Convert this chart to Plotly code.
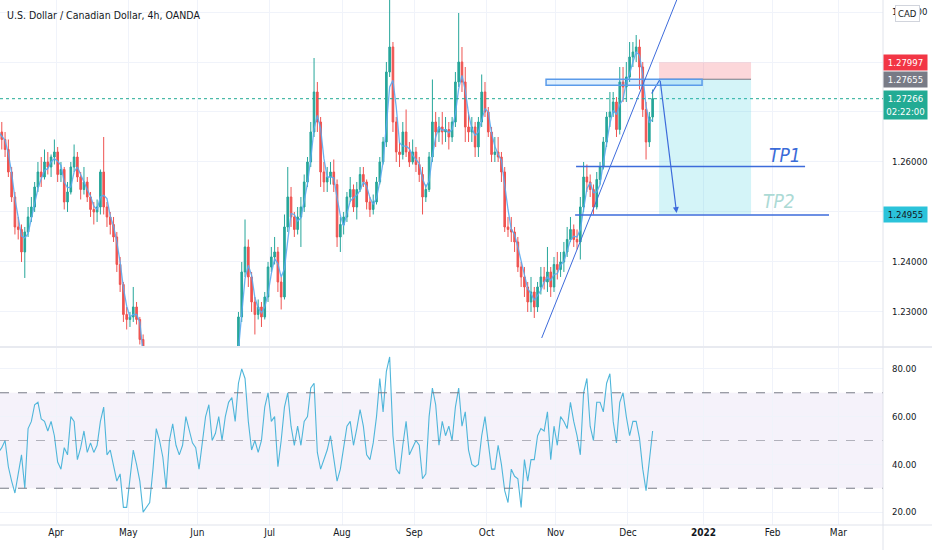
import plotly.graph_objects as go
import pandas as pd

# ---------------- data (daily weekday bars) ----------------
title_text = "U.S. Dollar / Canadian Dollar, 4h, OANDA"
first_day = "2021-03-08"

opens = [
    1.2630, 1.2660, 1.2645, 1.2625, 1.2580,
    1.2530, 1.2470, 1.2465, 1.2420, 1.2460,
    1.2490, 1.2510, 1.2550, 1.2580, 1.2570,
    1.2600, 1.2590, 1.2610, 1.2620, 1.2575,
    1.2585, 1.2520, 1.2540, 1.2590, 1.2610,
    1.2570, 1.2545, 1.2560, 1.2530, 1.2505,
    1.2500, 1.2510, 1.2580, 1.2510, 1.2490,
    1.2475, 1.2450, 1.2395, 1.2355, 1.2295,
    1.2285, 1.2290, 1.2310, 1.2285, 1.2245,
    1.2120, 1.2130, 1.2125, 1.2165, 1.2135,
    1.2100, 1.2075, 1.2050, 1.2090, 1.2060,
    1.2065, 1.2055, 1.2045, 1.2125, 1.2085,
    1.2070, 1.2050, 1.2060, 1.2070, 1.2110,
    1.2075, 1.2090, 1.2095, 1.2105, 1.2110,
    1.2150, 1.2155, 1.2165, 1.2220, 1.2290,
    1.2380, 1.2430, 1.2370, 1.2320, 1.2295,
    1.2310, 1.2290, 1.2330, 1.2390, 1.2410,
    1.2420, 1.2360, 1.2330, 1.2470, 1.2530,
    1.2490, 1.2465, 1.2490, 1.2510, 1.2560,
    1.2600, 1.2660, 1.2740, 1.2680, 1.2580,
    1.2560, 1.2570, 1.2580, 1.2555, 1.2450,
    1.2475, 1.2490, 1.2530, 1.2545, 1.2510,
    1.2545, 1.2575, 1.2560, 1.2520, 1.2505,
    1.2520, 1.2560, 1.2600, 1.2640, 1.2780,
    1.2830, 1.2680, 1.2620, 1.2615, 1.2660,
    1.2620, 1.2600, 1.2620, 1.2595, 1.2575,
    1.2530, 1.2545, 1.2610, 1.2680, 1.2660,
    1.2670, 1.2660, 1.2665, 1.2650, 1.2680,
    1.2760, 1.2800, 1.2760, 1.2670, 1.2660,
    1.2670, 1.2630, 1.2680, 1.2740, 1.2700,
    1.2660, 1.2615, 1.2620, 1.2610, 1.2580,
    1.2470, 1.2465, 1.2460, 1.2440, 1.2390,
    1.2370, 1.2350, 1.2320, 1.2340, 1.2310,
    1.2350, 1.2370, 1.2360, 1.2380, 1.2350,
    1.2395, 1.2385, 1.2400, 1.2420, 1.2445,
    1.2465, 1.2445, 1.2440, 1.2510, 1.2570,
    1.2560, 1.2545, 1.2510, 1.2565, 1.2590,
    1.2640, 1.2690, 1.2700, 1.2720, 1.2665,
    1.2760, 1.2750, 1.2770, 1.2810, 1.2820,
    1.2830, 1.2790, 1.2705, 1.2640, 1.2690,
]
highs = [
    1.2675, 1.2680, 1.2660, 1.2645, 1.2590,
    1.2540, 1.2490, 1.2475, 1.2470, 1.2510,
    1.2530, 1.2560, 1.2600, 1.2610, 1.2625,
    1.2620, 1.2615, 1.2645, 1.2630, 1.2600,
    1.2590, 1.2560, 1.2600, 1.2635, 1.2620,
    1.2580, 1.2590, 1.2570, 1.2540, 1.2520,
    1.2525, 1.2585, 1.2650, 1.2520, 1.2500,
    1.2490, 1.2460, 1.2410, 1.2360, 1.2310,
    1.2300, 1.2350, 1.2320, 1.2290, 1.2255,
    1.2150, 1.2150, 1.2180, 1.2190, 1.2140,
    1.2110, 1.2090, 1.2110, 1.2100, 1.2080,
    1.2080, 1.2070, 1.2140, 1.2135, 1.2095,
    1.2080, 1.2070, 1.2090, 1.2130, 1.2120,
    1.2100, 1.2110, 1.2120, 1.2120, 1.2160,
    1.2170, 1.2180, 1.2225, 1.2300, 1.2400,
    1.2485, 1.2445, 1.2380, 1.2330, 1.2325,
    1.2320, 1.2340, 1.2400, 1.2430, 1.2450,
    1.2430, 1.2370, 1.2495, 1.2590, 1.2550,
    1.2500, 1.2510, 1.2530, 1.2575, 1.2610,
    1.2680, 1.2808, 1.2760, 1.2690, 1.2600,
    1.2590, 1.2600, 1.2605, 1.2565, 1.2490,
    1.2500, 1.2540, 1.2570, 1.2555, 1.2560,
    1.2590, 1.2590, 1.2565, 1.2530, 1.2535,
    1.2570, 1.2610, 1.2650, 1.2800, 1.2949,
    1.2840, 1.2690, 1.2640, 1.2680, 1.2705,
    1.2640, 1.2645, 1.2630, 1.2610, 1.2590,
    1.2555, 1.2620, 1.2765, 1.2700, 1.2690,
    1.2700, 1.2690, 1.2680, 1.2690, 1.2780,
    1.2898, 1.2830, 1.2790, 1.2700, 1.2690,
    1.2680, 1.2690, 1.2775, 1.2760, 1.2710,
    1.2670, 1.2650, 1.2650, 1.2620, 1.2590,
    1.2490, 1.2490, 1.2470, 1.2450, 1.2400,
    1.2390, 1.2360, 1.2370, 1.2350, 1.2360,
    1.2390, 1.2390, 1.2430, 1.2390, 1.2410,
    1.2420, 1.2420, 1.2440, 1.2470, 1.2490,
    1.2475, 1.2465, 1.2530, 1.2600, 1.2595,
    1.2575, 1.2555, 1.2580, 1.2600, 1.2650,
    1.2700, 1.2740, 1.2740, 1.2730, 1.2790,
    1.2790, 1.2800, 1.2840, 1.2840, 1.2854,
    1.2845, 1.2800, 1.2720, 1.2700, 1.2745,
]
lows = [
    1.2600, 1.2625, 1.2610, 1.2570, 1.2520,
    1.2455, 1.2445, 1.2400, 1.2368, 1.2450,
    1.2480, 1.2500, 1.2540, 1.2550, 1.2565,
    1.2575, 1.2570, 1.2595, 1.2560, 1.2560,
    1.2505, 1.2500, 1.2535, 1.2580, 1.2560,
    1.2525, 1.2535, 1.2520, 1.2490, 1.2475,
    1.2480, 1.2495, 1.2495, 1.2470, 1.2455,
    1.2440, 1.2380, 1.2340, 1.2280, 1.2265,
    1.2270, 1.2280, 1.2275, 1.2235, 1.2105,
    1.2100, 1.2110, 1.2115, 1.2120, 1.2090,
    1.2060, 1.2040, 1.2045, 1.2050, 1.2040,
    1.2040, 1.2030, 1.2040, 1.2070, 1.2055,
    1.2040, 1.2007, 1.2040, 1.2060, 1.2060,
    1.2070, 1.2080, 1.2080, 1.2060, 1.2100,
    1.2130, 1.2140, 1.2150, 1.2210, 1.2280,
    1.2370, 1.2350, 1.2300, 1.2255, 1.2285,
    1.2270, 1.2285, 1.2320, 1.2380, 1.2395,
    1.2340, 1.2305, 1.2325, 1.2460, 1.2470,
    1.2450, 1.2455, 1.2430, 1.2500, 1.2550,
    1.2590, 1.2650, 1.2660, 1.2550, 1.2540,
    1.2540, 1.2555, 1.2540, 1.2430, 1.2420,
    1.2455, 1.2480, 1.2520, 1.2500, 1.2485,
    1.2540, 1.2550, 1.2505, 1.2490, 1.2495,
    1.2515, 1.2555, 1.2595, 1.2630, 1.2770,
    1.2660, 1.2600, 1.2590, 1.2605, 1.2610,
    1.2590, 1.2595, 1.2580, 1.2560, 1.2495,
    1.2520, 1.2540, 1.2600, 1.2630, 1.2640,
    1.2635, 1.2640, 1.2625, 1.2640, 1.2670,
    1.2750, 1.2740, 1.2640, 1.2640, 1.2640,
    1.2610, 1.2610, 1.2670, 1.2690, 1.2650,
    1.2600, 1.2600, 1.2600, 1.2560, 1.2460,
    1.2450, 1.2440, 1.2420, 1.2380, 1.2350,
    1.2330, 1.2300, 1.2300, 1.2288, 1.2300,
    1.2335, 1.2345, 1.2340, 1.2330, 1.2340,
    1.2365, 1.2370, 1.2380, 1.2410, 1.2440,
    1.2430, 1.2425, 1.2405, 1.2500, 1.2540,
    1.2530, 1.2495, 1.2505, 1.2555, 1.2585,
    1.2630, 1.2670, 1.2690, 1.2650, 1.2655,
    1.2720, 1.2720, 1.2760, 1.2790, 1.2800,
    1.2745, 1.2690, 1.2605, 1.2630, 1.2680,
]
closes = [
    1.2660, 1.2645, 1.2625, 1.2580, 1.2530,
    1.2470, 1.2465, 1.2420, 1.2460, 1.2490,
    1.2510, 1.2550, 1.2580, 1.2570, 1.2600,
    1.2590, 1.2610, 1.2620, 1.2575, 1.2585,
    1.2520, 1.2540, 1.2590, 1.2610, 1.2570,
    1.2545, 1.2560, 1.2530, 1.2505, 1.2500,
    1.2510, 1.2580, 1.2510, 1.2490, 1.2475,
    1.2450, 1.2395, 1.2355, 1.2295, 1.2285,
    1.2290, 1.2310, 1.2285, 1.2245, 1.2120,
    1.2130, 1.2125, 1.2165, 1.2135, 1.2100,
    1.2075, 1.2050, 1.2090, 1.2060, 1.2065,
    1.2055, 1.2045, 1.2125, 1.2085, 1.2070,
    1.2050, 1.2060, 1.2070, 1.2110, 1.2075,
    1.2090, 1.2095, 1.2105, 1.2110, 1.2150,
    1.2155, 1.2165, 1.2220, 1.2290, 1.2380,
    1.2430, 1.2370, 1.2320, 1.2295, 1.2310,
    1.2290, 1.2330, 1.2390, 1.2410, 1.2420,
    1.2360, 1.2330, 1.2470, 1.2530, 1.2490,
    1.2465, 1.2490, 1.2510, 1.2560, 1.2600,
    1.2660, 1.2740, 1.2680, 1.2580, 1.2560,
    1.2570, 1.2580, 1.2555, 1.2450, 1.2475,
    1.2490, 1.2530, 1.2545, 1.2510, 1.2545,
    1.2575, 1.2560, 1.2520, 1.2505, 1.2520,
    1.2560, 1.2600, 1.2640, 1.2780, 1.2830,
    1.2680, 1.2620, 1.2615, 1.2660, 1.2620,
    1.2600, 1.2620, 1.2595, 1.2575, 1.2530,
    1.2545, 1.2610, 1.2680, 1.2660, 1.2670,
    1.2660, 1.2665, 1.2650, 1.2680, 1.2760,
    1.2800, 1.2760, 1.2670, 1.2660, 1.2670,
    1.2630, 1.2680, 1.2740, 1.2700, 1.2660,
    1.2615, 1.2620, 1.2610, 1.2580, 1.2470,
    1.2465, 1.2460, 1.2440, 1.2390, 1.2370,
    1.2350, 1.2320, 1.2340, 1.2310, 1.2350,
    1.2370, 1.2360, 1.2380, 1.2350, 1.2395,
    1.2385, 1.2400, 1.2420, 1.2445, 1.2465,
    1.2445, 1.2440, 1.2510, 1.2570, 1.2560,
    1.2545, 1.2510, 1.2565, 1.2590, 1.2640,
    1.2690, 1.2700, 1.2720, 1.2665, 1.2760,
    1.2750, 1.2770, 1.2810, 1.2820, 1.2830,
    1.2790, 1.2705, 1.2640, 1.2690, 1.2727,
]
rsi_values = [
    45, 47, 50, 39, 33,
    28, 36, 44, 30, 55,
    58, 65, 66, 59, 58,
    54, 58, 52, 41, 38,
    47, 44, 60, 58, 42,
    47, 54, 45, 49, 45,
    48, 58, 64, 44, 46,
    40, 33, 36, 22, 22,
    34, 46, 40, 33, 20,
    22, 24, 38, 55, 50,
    43, 30, 50, 57, 48,
    44, 48, 60, 55, 49,
    47, 38, 49, 60, 65,
    50, 53, 60, 50, 60,
    66, 68, 58, 74, 80,
    76, 58, 46, 50, 45,
    50, 64, 70, 58, 60,
    39, 50, 64, 70, 56,
    48, 56, 48, 58, 60,
    72, 74, 45, 38, 42,
    46, 52, 42, 33, 38,
    47, 56, 58, 48, 55,
    63, 56, 44, 42, 49,
    60, 76, 62, 79, 85,
    52, 38, 36, 48, 58,
    44, 47, 50, 48, 34,
    36, 60, 72, 65, 48,
    58, 52, 56, 50, 64,
    72, 56, 62, 46, 40,
    39, 40, 52, 60, 48,
    38, 38, 48, 40, 29,
    24, 38, 35, 34, 22,
    42, 33, 42, 42, 52,
    55, 54, 62, 42, 56,
    48, 60, 58, 55, 66,
    58, 52, 44, 70, 76,
    56, 50, 66, 66, 62,
    74, 78, 58, 49, 66,
    70, 60, 52, 58, 58,
    51, 38, 29, 42, 54,
]

# axis ticks
month_tick_dates = ["2021-04-01", "2021-05-03", "2021-06-01", "2021-07-01", "2021-08-02",
                    "2021-09-01", "2021-10-01", "2021-11-01", "2021-12-01", "2022-01-03",
                    "2022-02-01", "2022-03-01"]
month_tick_labels = ["Apr", "May", "Jun", "Jul", "Aug", "Sep", "Oct", "Nov", "Dec",
                     "<b>2022</b>", "Feb", "Mar"]
price_ticks = [1.23, 1.24, 1.25, 1.26, 1.27, 1.28, 1.29]
price_tick_labels = ["1.23000", "1.24000", "", "1.26000", "", "", "1.29000"]  # others hidden by price tags
rsi_ticks = [20, 40, 60, 80]

# drawing objects (chart annotations, in data units)
last_price = 1.27266
countdown = "02:22:00"
stop_price = 1.27997
entry_price = 1.27655
target_price = 1.24955
tp1_price = 1.2591
tp2_price = 1.2494
box_start, box_end = "2021-12-14 11:00", "2022-01-21 10:30"
zone_start, zone_end = "2021-10-27 02:00", "2021-12-31 13:00"
zone_low = 1.27535
trend_p0 = ("2021-10-25 18:00", 1.2248)
trend_p1 = ("2021-12-21 20:00", 1.2924)
tp1_span = ("2021-11-09 05:00", "2022-02-14 21:00")
tp2_span = ("2021-11-08 22:00", "2022-02-24 04:00")
tp1_label_pos = ("2022-02-04 19:00", 1.2614)
tp2_label_pos = ("2022-02-03 00:00", 1.2521)
path_start = ("2021-12-10 05:00", 1.2737)
path_apex = ("2021-12-14 18:00", entry_price)
arrow_tip = ("2021-12-21 19:00", 1.2498)

x_range = ["2021-03-08 23:00", "2022-03-18 14:00"]
price_range = [1.2232, 1.2924]
rsi_range = [14.6, 88.75]

# ---------------- styling ----------------
FONT = "Liberation Sans Narrow, DejaVu Sans Condensed, Roboto Condensed, Roboto, sans-serif"
TXT = "#131722"
GRID = "#F0F3FA"
SEP = "#E0E3EB"
UP = "#26A69A"
DOWN = "#EF5350"
BLUE = "#3D6BDB"
TICK_SIZE = 9.5

dates = pd.bdate_range(first_day, periods=len(closes)) + pd.Timedelta(hours=12)
ma_line = pd.Series(closes).rolling(3, min_periods=1).mean()

fig = go.Figure()
fig.add_trace(go.Candlestick(
    x=dates, open=opens, high=highs, low=lows, close=closes,
    increasing=dict(line=dict(color=UP, width=1), fillcolor=UP),
    decreasing=dict(line=dict(color=DOWN, width=1), fillcolor=DOWN),
    whiskerwidth=0, xaxis="x", yaxis="y", showlegend=False, hoverinfo="skip"))
fig.add_trace(go.Scatter(x=dates, y=ma_line, mode="lines",
                         line=dict(color="rgba(90,170,240,0.9)", width=1.3),
                         xaxis="x", yaxis="y", showlegend=False, hoverinfo="skip"))
fig.add_trace(go.Scatter(x=[path_start[0], path_apex[0]], y=[path_start[1], path_apex[1]],
                         mode="lines", line=dict(color=BLUE, width=1.2),
                         xaxis="x", yaxis="y", showlegend=False, hoverinfo="skip"))
fig.add_trace(go.Scatter(x=dates, y=rsi_values, mode="lines",
                         line=dict(color="#4FB6DA", width=1.1),
                         xaxis="x2", yaxis="y2", showlegend=False, hoverinfo="skip"))

shapes = []
# RSI band and levels
shapes.append(dict(type="rect", xref="paper", yref="y2", x0=0, x1=1, y0=30, y1=70,
                   fillcolor="rgba(126,87,194,0.08)", line=dict(width=0), layer="below"))
for lvl, col in [(70, "#787B86"), (30, "#787B86"), (50, "rgba(120,123,134,0.55)")]:
    shapes.append(dict(type="line", xref="paper", yref="y2", x0=0, x1=1, y0=lvl, y1=lvl,
                       line=dict(color=col, width=1, dash="dash")))
# pane separators / scale border
shapes.append(dict(type="line", xref="paper", yref="paper", x0=0, x1=1.06, y0=0.3392, y1=0.3392,
                   line=dict(color=SEP, width=1.5)))
shapes.append(dict(type="line", xref="paper", yref="paper", x0=1.0, x1=1.0, y0=-0.05, y1=1,
                   line=dict(color=SEP, width=1)))
shapes.append(dict(type="line", xref="paper", yref="paper", x0=0, x1=1.06, y0=0, y1=0,
                   line=dict(color=SEP, width=1)))
# current price dotted line
shapes.append(dict(type="line", xref="paper", yref="y", x0=0, x1=1, y0=last_price, y1=last_price,
                   line=dict(color="#22AB94", width=1, dash="dot")))
# short position box
shapes.append(dict(type="rect", xref="x", yref="y", x0=box_start, x1=box_end,
                   y0=entry_price, y1=stop_price, fillcolor="rgba(242,54,69,0.2)", line=dict(width=0)))
shapes.append(dict(type="rect", xref="x", yref="y", x0=box_start, x1=box_end,
                   y0=target_price, y1=entry_price, fillcolor="rgba(38,198,218,0.2)", line=dict(width=0)))
shapes.append(dict(type="line", xref="x", yref="y", x0=box_start, x1=box_end,
                   y0=entry_price, y1=entry_price, line=dict(color="#787B86", width=1)))
# entry zone rectangle
shapes.append(dict(type="rect", xref="x", yref="y", x0=zone_start, x1=zone_end,
                   y0=zone_low, y1=entry_price, fillcolor="rgba(33,150,243,0.15)",
                   line=dict(color="#5B9BEA", width=1.5)))
# trend line
shapes.append(dict(type="line", xref="x", yref="y", x0=trend_p0[0], y0=trend_p0[1],
                   x1=trend_p1[0], y1=trend_p1[1], line=dict(color=BLUE, width=1)))
# TP lines
shapes.append(dict(type="line", xref="x", yref="y", x0=tp1_span[0], x1=tp1_span[1],
                   y0=tp1_price, y1=tp1_price, line=dict(color=BLUE, width=1.5)))
shapes.append(dict(type="line", xref="x", yref="y", x0=tp2_span[0], x1=tp2_span[1],
                   y0=tp2_price, y1=tp2_price, line=dict(color=BLUE, width=1.5)))

annotations = []
annotations.append(dict(xref="paper", yref="paper", x=0, y=1, xanchor="left", yanchor="top",
                        xshift=5, yshift=-7, text=title_text, showarrow=False,
                        font=dict(family=FONT, size=10.5, color=TXT)))
annotations.append(dict(xref="x", yref="y", x=tp1_label_pos[0], y=tp1_label_pos[1],
                        text="<i>TP1</i>", showarrow=False,
                        font=dict(family=FONT, size=19, color="#3A6BD8")))
annotations.append(dict(xref="x", yref="y", x=tp2_label_pos[0], y=tp2_label_pos[1],
                        text="<i>TP2</i>", showarrow=False,
                        font=dict(family=FONT, size=19, color="#ACDAD5")))
annotations.append(dict(xref="x", yref="y", axref="x", ayref="y",
                        x=arrow_tip[0], y=arrow_tip[1], ax=path_apex[0], ay=path_apex[1],
                        text="", showarrow=True, arrowhead=2, arrowsize=1, arrowwidth=1.2,
                        arrowcolor=BLUE, standoff=0))


def price_label(price, text, bg, fg, height=13, yanchor="middle", yshift=0):
    return dict(xref="paper", yref="y", x=1.0, y=price, xanchor="left", yanchor=yanchor,
                yshift=yshift, text=text, showarrow=False, bgcolor=bg, width=41, height=height,
                borderpad=1, align="center", font=dict(family=FONT, size=TICK_SIZE, color=fg))


annotations.append(price_label(stop_price, f"{stop_price:.5f}", "#F23645", "white"))
annotations.append(price_label(entry_price, f"{entry_price:.5f}", "#787B86", "white"))
annotations.append(price_label(last_price, f"{last_price:.5f}<br>{countdown}", "#22AB94", "white",
                               height=26, yanchor="top", yshift=9))
annotations.append(price_label(target_price, f"{target_price:.5f}", "#2BC3DA", TXT))
annotations.append(dict(xref="paper", yref="paper", x=1.028, y=0.975, xanchor="center",
                        yanchor="middle", text="CAD", showarrow=False, bgcolor="white",
                        bordercolor="#D1D4DC", borderwidth=1, borderpad=2,
                        font=dict(family=FONT, size=9.5, color=TXT)))

xcommon = dict(type="date", range=x_range, rangebreaks=[dict(bounds=["sat", "mon"])],
               tickmode="array", tickvals=month_tick_dates, ticktext=month_tick_labels,
               showgrid=True, gridcolor=GRID, gridwidth=1, zeroline=False, showline=False,
               ticks="", automargin=False)

fig.update_layout(
    width=932, height=550,
    margin=dict(l=0, r=49, t=0, b=25),
    paper_bgcolor="white", plot_bgcolor="white",
    font=dict(family=FONT, size=11, color=TXT),
    showlegend=False,
    xaxis=dict(**xcommon, domain=[0, 1], anchor="y", showticklabels=False,
               rangeslider=dict(visible=False)),
    xaxis2=dict(**xcommon, domain=[0, 1], anchor="y2", matches="x",
                tickfont=dict(family=FONT, size=10, color=TXT)),
    yaxis=dict(domain=[0.341, 1], side="right", range=price_range, tickmode="array",
               tickvals=price_ticks, ticktext=price_tick_labels,
               showgrid=True, gridcolor=GRID, zeroline=False, showline=False, ticks="",
               automargin=False, ticklabelstandoff=8,
               tickfont=dict(family=FONT, size=TICK_SIZE, color=TXT)),
    yaxis2=dict(domain=[0, 0.3371], side="right", range=rsi_range, tickmode="array",
                tickvals=rsi_ticks, ticktext=[f"{v:.2f}" for v in rsi_ticks],
                showgrid=True, gridcolor=GRID, zeroline=False, showline=False, ticks="",
                automargin=False, ticklabelstandoff=8,
                tickfont=dict(family=FONT, size=TICK_SIZE, color=TXT)),
    shapes=shapes,
    annotations=annotations,
)

fig.write_html("out.html", config={"displayModeBar": False},
               post_script="document.body.style.margin='0';")
